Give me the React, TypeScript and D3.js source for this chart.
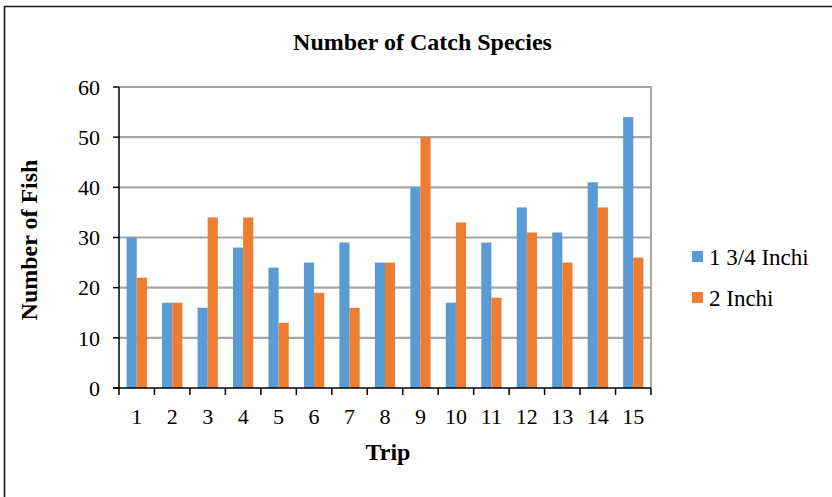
import React from "react";
import * as d3 from "d3";

const trips = ["1","2","3","4","5","6","7","8","9","10","11","12","13","14","15"];
const seriesNames = ["1 3/4 Inchi", "2 Inchi"];
const small = [30,17,16,28,24,25,29,25,40,17,29,36,31,41,54];
const large = [22,17,34,34,13,19,16,25,50,33,18,31,25,36,26];
const yTicks = [0,10,20,30,40,50,60];
const colors = ["#5b9bd5", "#ed7d31"];

const W = 832, H = 497;
const left = 119, right = 651, top = 87, bottom = 388;
const FONT = "'Liberation Serif', 'Times New Roman', serif";

export default function App() {
  const x = d3.scaleBand<string>().domain(trips).range([left, right]).paddingInner(0.4286).paddingOuter(0.2143);
  const step = x.step();
  const inner = d3.scaleBand<string>().domain(["a","b"]).range([0, x.bandwidth()]);
  const y = d3.scaleLinear().domain([0, 60]).range([bottom, top]);
  const series = [small, large];
  return (
    <svg width={W} height={H} style={{ position: "absolute", left: 0, top: 0, background: "#fff" }} fontFamily={FONT}>
      <rect x={0} y={0} width={W} height={H} fill="#fff" />
      <path d={`M4.5,${H} L4.5,6.5 L${W},6.5`} fill="none" stroke="#1a1a1a" strokeWidth={1.6} />
      <text x={422.5} y={50} textAnchor="middle" fontSize={24} fontWeight="bold">Number of Catch Species</text>
      {yTicks.filter(t => t > 0).map(t => (
        <line key={t} x1={left} x2={right} y1={y(t)} y2={y(t)} stroke="#a6a6a6" strokeWidth={2.2} />
      ))}
      <line x1={right} x2={right} y1={top - 1} y2={bottom} stroke="#a6a6a6" strokeWidth={2} />
      {trips.map((t, i) => series.map((s, j) => (
        <rect key={t + j} x={(x(t) as number) + (inner(j ? "b" : "a") as number)} y={y(s[i])}
          width={inner.bandwidth()} height={bottom - y(s[i])} fill={colors[j]} />
      )))}
      <line x1={left} x2={left} y1={top} y2={bottom} stroke="#000" strokeWidth={1.5} />
      <line x1={left - 6} x2={right} y1={bottom} y2={bottom} stroke="#000" strokeWidth={1.5} />
      {yTicks.map(t => (
        <g key={t}>
          <line x1={left - 6} x2={left} y1={y(t)} y2={y(t)} stroke="#000" strokeWidth={1.5} />
          <text x={100} y={y(t)} dy="0.35em" textAnchor="end" fontSize={22}>{t}</text>
        </g>
      ))}
      {d3.range(trips.length + 1).map(i => (
        <line key={i} x1={left + i * step} x2={left + i * step} y1={bottom} y2={bottom + 7} stroke="#000" strokeWidth={1.5} />
      ))}
      {trips.map(t => (
        <text key={t} x={(x(t) as number) + x.bandwidth() / 2} y={424} textAnchor="middle" fontSize={22}>{t}</text>
      ))}
      <text x={388} y={460} textAnchor="middle" fontSize={24} fontWeight="bold">Trip</text>
      <text transform={`translate(37,240) rotate(-90)`} textAnchor="middle" fontSize={24} fontWeight="bold">Number of Fish</text>
      {seriesNames.map((n, j) => (
        <g key={n}>
          <rect x={692} y={251 + j * 41} width={11} height={11} fill={colors[j]} />
          <text x={709} y={265 + j * 41} fontSize={23}>{n}</text>
        </g>
      ))}
    </svg>
  );
}
